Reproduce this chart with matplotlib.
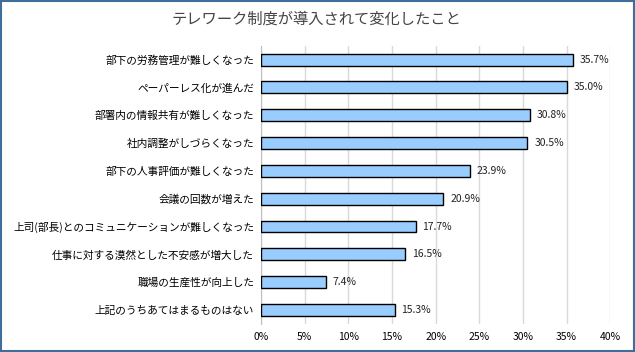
import numpy as np
import matplotlib.pyplot as plt
from matplotlib.patches import Rectangle

plt.rcParams['font.family'] = ['Noto Sans CJK JP', 'DejaVu Sans']

labels = [
    "部下の労務管理が難しくなった",
    "ペーパーレス化が進んだ",
    "部署内の情報共有が難しくなった",
    "社内調整がしづらくなった",
    "部下の人事評価が難しくなった",
    "会議の回数が増えた",
    "上司(部長)とのコミュニケーションが難しくなった",
    "仕事に対する漠然とした不安感が増大した",
    "職場の生産性が向上した",
    "上記のうちあてはまるものはない",
]
values = [35.7, 35.0, 30.8, 30.5, 23.9, 20.9, 17.7, 16.5, 7.4, 15.3]
xticks = [0, 5, 10, 15, 20, 25, 30, 35, 40]

fig = plt.figure(figsize=(6.35, 3.52), dpi=100)
ax = fig.add_axes([0.411, 0.080, 0.550, 0.790])

y = np.arange(len(labels))
ax.barh(y, values, height=0.43, color='#99CCFF', edgecolor='black', linewidth=1.0, zorder=3)

for yi, v in zip(y, values):
    ax.text(v + 0.8, yi, f"{v:.1f}%", va='center', ha='left', fontsize=7.5, color='#222222')

ax.set_xlim(0, 40)
ax.set_ylim(len(labels) - 0.5, -0.5)
ax.set_xticks(xticks)
ax.set_xticklabels([f"{t}%" for t in xticks], fontsize=7.5)
ax.set_yticks(y)
ax.set_yticklabels(labels, fontsize=7.7)
ax.tick_params(axis='both', length=0, pad=6)
ax.tick_params(axis='y', pad=5)

ax.xaxis.grid(True, color='#D9D9D9', linewidth=1.0, zorder=0)
for s in ['top', 'right', 'bottom']:
    ax.spines[s].set_visible(False)
ax.spines['left'].set_color('#BFBFBF')

fig.text(0.498, 0.945, "テレワーク制度が導入されて変化したこと", ha='center', va='center',
         fontsize=11, color='#444444')

fig.patches.append(Rectangle((0.002, 0.003), 0.996, 0.994, transform=fig.transFigure,
                             fill=False, edgecolor='#3F6E9A', linewidth=1.5))

fig.savefig('out.png', dpi=100)
